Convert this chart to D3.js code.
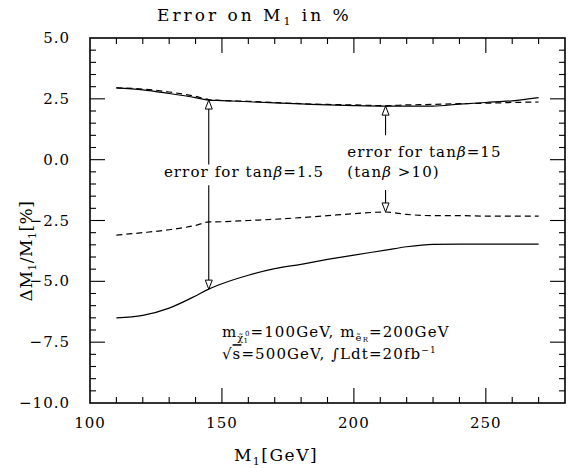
<!DOCTYPE html>
<html>
<head>
<meta charset="utf-8">
<script src="https://cdn.jsdelivr.net/npm/d3@7"></script>
<style>
  body { margin: 0; background: #fff; }
  text { font-family: "DejaVu Serif", serif; fill: #000; }
</style>
</head>
<body>
<svg id="chart" width="574" height="468"></svg>
<script>
// masses M1 in GeV
const mass = [110, 120, 130, 140, 145, 150, 160, 170, 180, 190, 200, 212, 220, 230, 240, 250, 260, 270];
// upper error band (positive), tanb=1.5 solid, tanb=15 dashed
const upperSolid  = [2.95, 2.87, 2.72, 2.55, 2.45, 2.43, 2.38, 2.33, 2.29, 2.25, 2.22, 2.2, 2.2, 2.2, 2.28, 2.35, 2.42, 2.55];
const upperDashed = [2.95, 2.9, 2.78, 2.6, 2.47, 2.43, 2.4, 2.35, 2.3, 2.27, 2.25, 2.22, 2.25, 2.27, 2.3, 2.32, 2.35, 2.37];
// lower error band (negative)
const lowerDashed = [-3.1, -3.0, -2.88, -2.7, -2.56, -2.55, -2.5, -2.45, -2.38, -2.3, -2.22, -2.15, -2.25, -2.3, -2.3, -2.32, -2.32, -2.32];
const lowerSolid  = [-6.5, -6.4, -6.1, -5.6, -5.32, -5.1, -4.75, -4.48, -4.3, -4.1, -3.92, -3.72, -3.58, -3.48, -3.47, -3.47, -3.47, -3.47];

const xTicks = [100, 150, 200, 250];
const yTicks = [-10, -7.5, -5, -2.5, 0, 2.5, 5];

const svg = d3.select('#chart');
const margin = { top: 38, right: 9, bottom: 65, left: 90 };
const width = +svg.attr('width') - margin.left - margin.right;
const height = +svg.attr('height') - margin.top - margin.bottom;

const x = d3.scaleLinear().domain([100, 280]).range([0, width]);
const y = d3.scaleLinear().domain([-10, 5]).range([height, 0]);

const g = svg.append('g').attr('transform', `translate(${margin.left},${margin.top})`);

// frame
g.append('rect')
  .attr('width', width).attr('height', height)
  .attr('fill', 'none').attr('stroke', '#000').attr('stroke-width', 1.6);

// ticks on all four sides
const xMinor = d3.range(110, 280, 10).filter(v => v % 50 !== 0);
const yMinor = d3.range(-9.5, 5, 0.5).filter(v => Math.abs(v % 2.5) > 0.01);
const tickG = g.append('g').attr('stroke', '#000').attr('stroke-width', 1.1);
const drawX = (vals, len) => vals.forEach(v => {
  tickG.append('line').attr('x1', x(v)).attr('x2', x(v)).attr('y1', height).attr('y2', height - len);
  tickG.append('line').attr('x1', x(v)).attr('x2', x(v)).attr('y1', 0).attr('y2', len);
});
const drawY = (vals, len) => vals.forEach(v => {
  tickG.append('line').attr('y1', y(v)).attr('y2', y(v)).attr('x1', 0).attr('x2', len);
  tickG.append('line').attr('y1', y(v)).attr('y2', y(v)).attr('x1', width).attr('x2', width - len);
});
drawX(xTicks.slice(1), 15);
drawX(xMinor, 6);
drawY(yTicks.slice(1, -1), 15);
drawY(yMinor, 6);

// tick labels
g.selectAll('.xl').data(xTicks).enter().append('text')
  .attr('x', d => x(d)).attr('y', height + 25)
  .attr('text-anchor', 'middle').attr('font-size', 15).attr('letter-spacing', 1)
  .text(d => d);
g.selectAll('.yl').data(yTicks).enter().append('text')
  .attr('x', -20).attr('y', d => y(d) + 5)
  .attr('text-anchor', 'end').attr('font-size', 15).attr('letter-spacing', 1)
  .text(d => d.toFixed(1).replace('-', '\u2212'));

// curves
const line = d3.line().curve(d3.curveMonotoneX)
  .x(d => x(d[0])).y(d => y(d[1]));
const series = [
  { v: upperSolid, dash: null },
  { v: upperDashed, dash: '6,4' },
  { v: lowerDashed, dash: '6,4' },
  { v: lowerSolid, dash: null }
];
series.forEach(s => {
  g.append('path')
    .attr('d', line(mass.map((m, i) => [m, s.v[i]])))
    .attr('fill', 'none').attr('stroke', '#000').attr('stroke-width', 1.2)
    .attr('stroke-dasharray', s.dash);
});

// arrows with open heads
const head = (px, py, dir) => {
  const h = 9 * dir, w = 3.5;
  g.append('path')
    .attr('d', `M${px},${py}L${px - w},${py + h}L${px + w},${py + h}Z`)
    .attr('fill', '#fff').attr('stroke', '#000').attr('stroke-width', 1);
};
const vline = (px, y1, y2) => g.append('line')
  .attr('x1', px).attr('x2', px).attr('y1', y1).attr('y2', y2)
  .attr('stroke', '#000').attr('stroke-width', 1.1);

const a1 = x(145);
const a1top = y(upperSolid[4]), a1bot = y(lowerSolid[4]);
vline(a1, a1top + 9, y(-0.2));
vline(a1, y(-1.05), a1bot - 9);
head(a1, a1top, 1);
head(a1, a1bot, -1);

const a2 = x(212);
const a2top = y(upperSolid[11]), a2bot = y(lowerDashed[11]);
vline(a2, a2top + 9, y(1.0));
vline(a2, y(-1.25), a2bot - 9);
head(a2, a2top, 1);
head(a2, a2bot, -1);

// annotation text
const ann = (px, py, parts, size) => {
  const t = g.append('text').attr('x', px).attr('y', py)
    .attr('font-size', size || 15).attr('letter-spacing', 1.1);
  parts.forEach(p => {
    const ts = t.append('tspan').text(p.t);
    if (p.s) ts.attr('font-size', p.s);
    if (p.dy) ts.attr('dy', p.dy);
    if (p.dx) ts.attr('dx', p.dx);
    if (p.i) ts.attr('font-style', 'italic');
    if (p.o) ts.style('text-decoration', 'overline');
  });
  return t;
};
ann(x(128), y(-0.72), [{ t: 'error for tan' }, { t: 'β', i: true }, { t: '=1.5' }]);
ann(x(197.5), y(0.12), [{ t: 'error for tan' }, { t: 'β', i: true }, { t: '=15' }]);
ann(x(197.5), y(-0.72), [{ t: '(tan' }, { t: 'β', i: true }, { t: ' >10)' }]);

ann(x(150), y(-7.3), [
  { t: 'm' },
  { t: 'χ̃', s: 10, dy: 4 }, { t: '1', s: 7, dy: 2, dx: -1 }, { t: '0', s: 7, dy: -7, dx: -4 },
  { t: '=100GeV, m', dy: 1 },
  { t: 'ẽ', s: 10, dy: 4 }, { t: 'R', s: 7, dy: 1 },
  { t: '=200GeV', dy: -5 }
]);
ann(x(150), y(-8.2), [
  { t: '√' }, { t: 's', o: true }, { t: '=500GeV, ' }, { t: '∫', i: true }, { t: 'Ldt=20fb' },
  { t: '−1', s: 9, dy: -6 }
]);

// titles
svg.append('text').attr('x', 157).attr('y', 21).attr('font-size', 17)
  .attr('letter-spacing', 3)
  .html('Error on M<tspan font-size="11" dy="4">1</tspan><tspan dy="-4"> in %</tspan>');
svg.append('text').attr('x', 276).attr('y', 461).attr('font-size', 17)
  .attr('text-anchor', 'middle').attr('letter-spacing', 1.5)
  .html('M<tspan font-size="11" dy="4">1</tspan><tspan dy="-4">[GeV]</tspan>');
svg.append('text').attr('transform', 'translate(32,251) rotate(-90)')
  .attr('font-size', 17).attr('text-anchor', 'middle').attr('letter-spacing', 0.5)
  .html('ΔM<tspan font-size="11" dy="4">1</tspan><tspan dy="-4">/M</tspan><tspan font-size="11" dy="4">1</tspan><tspan dy="-4">[%]</tspan>');
</script>
</body>
</html>
